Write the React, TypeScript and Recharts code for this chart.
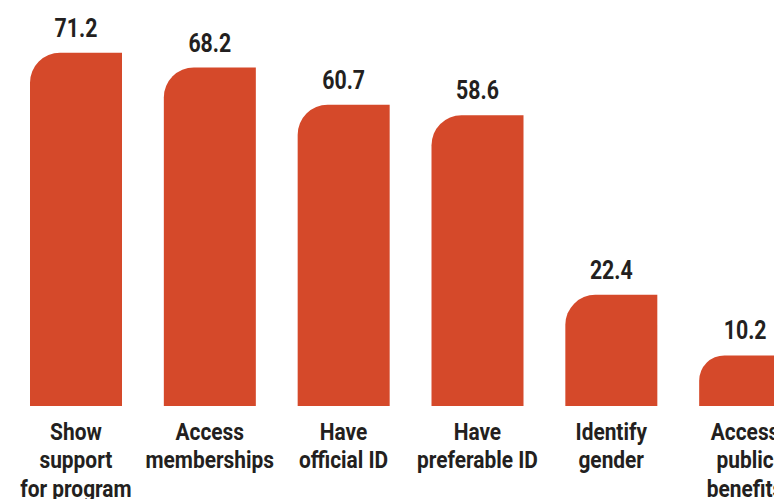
import { BarChart, Bar, XAxis, YAxis, LabelList } from "recharts";

const categories = [
  "Show\nsupport\nfor program",
  "Access\nmemberships",
  "Have\nofficial ID",
  "Have\npreferable ID",
  "Identify\ngender",
  "Access\npublic\nbenefits",
];
const values = [71.2, 68.2, 60.7, 58.6, 22.4, 10.2];

const data = categories.map((name, i) => ({ name, value: values[i] }));

const FONT = "Roboto, 'DejaVu Sans', sans-serif";

// the source uses a condensed face; squeeze Roboto horizontally around the anchor
const squeeze = (x: number, k: number) =>
  `translate(${x},0) scale(${k},1) translate(${-x},0)`;

function CategoryTick(props: any) {
  const { x, y, payload } = props;
  const lines = String(payload.value).split("\n");
  return (
    <text
      x={x}
      y={y}
      transform={squeeze(x, 0.87)}
      textAnchor="middle"
      fill="#231f20"
      fontFamily={FONT}
      fontWeight={700}
      fontSize={24}
    >
      {lines.map((line, i) => (
        <tspan key={i} x={x} dy={i === 0 ? 28 : 28.5}>
          {line}
        </tspan>
      ))}
    </text>
  );
}

function ValueLabel(props: any) {
  const { x, y, width, value } = props;
  const cx = Number(x) + Number(width) / 2;
  return (
    <text
      x={cx}
      y={Number(y) - 16}
      transform={squeeze(cx, 0.82)}
      textAnchor="middle"
      fill="#231f20"
      fontFamily={FONT}
      fontWeight={700}
      fontSize={26}
    >
      {Number(value).toFixed(1)}
    </text>
  );
}

export default function App() {
  return (
    <div
      style={{
        position: "absolute",
        left: 0,
        top: 0,
        width: 774,
        height: 499,
        overflow: "hidden",
        background: "#fff",
      }}
    >
      <BarChart
        width={812}
        height={499}
        data={data}
        margin={{ top: 9, right: 0, left: 9, bottom: 0 }}
        barCategoryGap={0}
      >
        <XAxis
          dataKey="name"
          axisLine={false}
          tickLine={false}
          tickMargin={0}
          height={93}
          interval={0}
          tick={<CategoryTick />}
        />
        <YAxis hide domain={[0, 80]} />
        <Bar
          dataKey="value"
          fill="#d5492a"
          barSize={92}
          radius={[30, 0, 0, 0]}
          isAnimationActive={false}
        >
          <LabelList dataKey="value" content={<ValueLabel />} />
        </Bar>
      </BarChart>
    </div>
  );
}
